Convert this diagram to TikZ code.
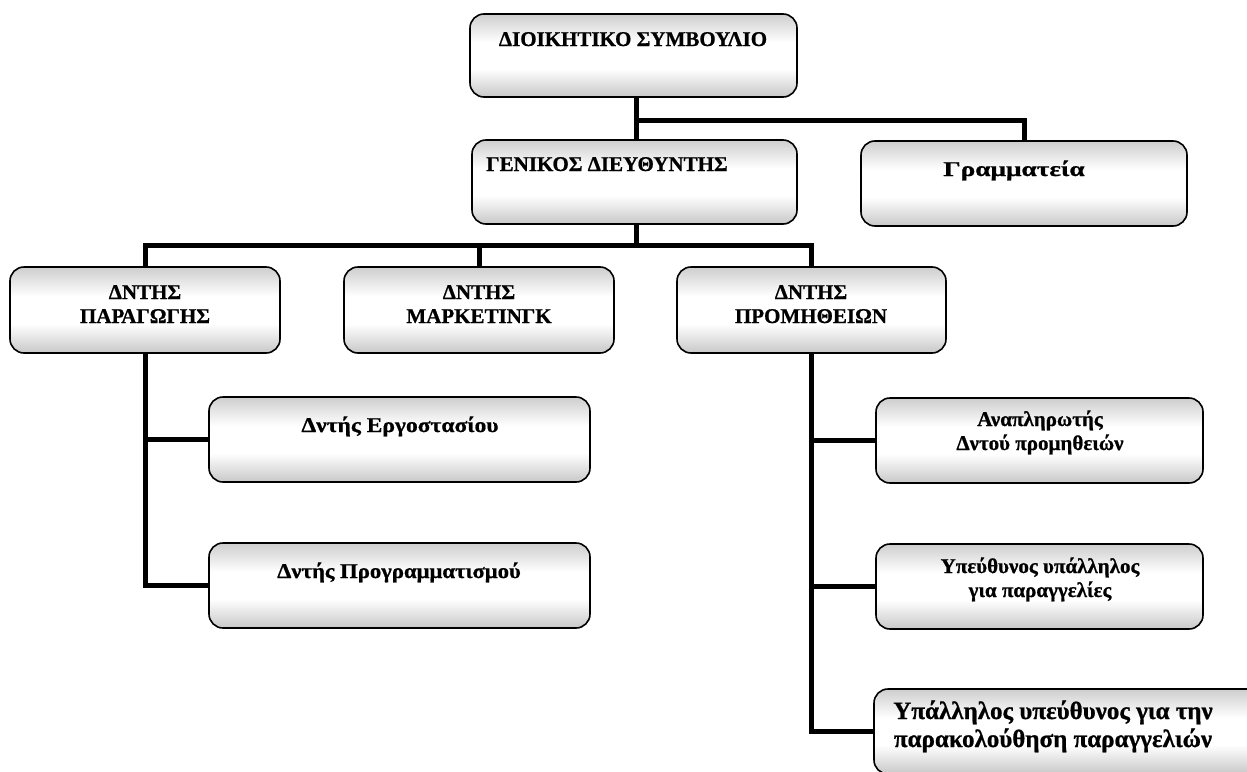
\documentclass[tikz,border=0pt]{standalone}
\usepackage{fontspec}
\setmainfont{Liberation Serif}[BoldFeatures={FakeBold=0.8}]
\usetikzlibrary{calc,backgrounds}

% grey-white-grey fill of the boxes (0bp = bottom edge)
\pgfdeclareverticalshading{boxshade}{100bp}{%
  color(0bp)=(black!58); color(20bp)=(black!28); color(42bp)=(white);
  color(58bp)=(white); color(80bp)=(black!25); color(100bp)=(black!50)}

\begin{document}
\begin{tikzpicture}[x=1pt,y=-1pt,
  box/.style={draw=black,line width=1.6pt,rounded corners=14pt,
    shading=boxshade,rectangle,inner sep=0pt,outer sep=0pt},
  lbl/.style={font=\fontsize{21}{24}\selectfont\bfseries,
    align=center,inner sep=0pt,anchor=base},
  biglbl/.style={lbl,font=\fontsize{25}{28}\selectfont\bfseries},
  wire/.style={line width=5pt}]

\useasboundingbox (0,0) rectangle (1247,771);
\clip (0,0) rectangle (1247,771);

% ---- boxes -------------------------------------------------------
\path
 node[box,minimum width=327pt,minimum height=83pt] (b1) at (633.5,55.5) {}
 node[box,minimum width=325pt,minimum height=84pt] (b2) at (634.5,182) {}
 node[box,minimum width=326pt,minimum height=85pt] (b3) at (1024,183.5) {}
 node[box,minimum width=270pt,minimum height=86pt] (b4) at (145,310) {}
 node[box,minimum width=270pt,minimum height=86pt] (b5) at (479,310) {}
 node[box,minimum width=269pt,minimum height=86pt] (b6) at (811.5,310) {}
 node[box,minimum width=381pt,minimum height=85pt] (b7) at (399.5,439.5) {}
 node[box,minimum width=381pt,minimum height=85pt] (b8) at (399.5,585.5) {}
 node[box,minimum width=327pt,minimum height=85pt] (b9) at (1039.5,440.5) {}
 node[box,minimum width=327pt,minimum height=85pt] (b10) at (1039.5,586.5) {}
 node[box,minimum width=400pt,minimum height=85pt] (b11) at (1074,731.5) {};

% ---- connectors (drawn behind the boxes) -------------------------
\coordinate (j1) at ($(b1.south)+(3,23)$);
\coordinate (j2) at ($(b2.south)+(2,21)$);
\begin{scope}[on background layer]
  \fill[white] (0,0) rectangle (1247,771);
  \draw[wire] (j1 |- b1.south) -- (j1 |- b2.north);
  \draw[wire] (j1) -| (b3.north);
  \draw[wire] (j2 |- b2.south) -- (j2);
  \draw[wire] (b4.north) |- (j2) -| (b6.north);
  \draw[wire] (b5.north) -- (b5.north |- j2);
  % production branch
  \draw[wire] (b4.south) |- (b8.west);
  \draw[wire] (b4.south |- b7.west) -- (b7.west);
  % purchasing branch
  \draw[wire] (b6.south) |- (b11.west);
  \draw[wire] (b6.south |- b9.west) -- (b9.west);
  \draw[wire] (b6.south |- b10.west) -- (b10.west);
\end{scope}

% ---- labels (base = baseline of the last line) --------------------
\node[lbl] (t1) at (633,46) {ΔΙΟΙΚΗΤΙΚΟ ΣΥΜΒΟΥΛΙΟ};
\node[lbl] (t2) at (607,171) {ΓΕΝΙΚΟΣ ΔΙΕΥΘΥΝΤΗΣ};
\node[lbl] (t3) at (1014,176) {\scalebox{1.3}[1]{Γραμματεία}};
\node[lbl] (t4) at (145,323) {ΔΝΤΗΣ\\ΠΑΡΑΓΩΓΗΣ};
\node[lbl] (t5) at (479,323) {ΔΝΤΗΣ\\ΜΑΡΚΕΤΙΝΓΚ};
\node[lbl] (t6) at (811,323) {ΔΝΤΗΣ\\ΠΡΟΜΗΘΕΙΩΝ};
\node[lbl] (t7) at (400,432) {\scalebox{1.12}[1]{Δντής Εργοστασίου}};
\node[lbl] (t8) at (399,578) {\scalebox{1.08}[1]{Δντής Προγραμματισμού}};
\node[lbl] (t9) at (1040,450) {Αναπληρωτής\\Δντού προμηθειών};
\node[lbl] (t10) at (1040,597) {Υπεύθυνος υπάλληλος\\για παραγγελίες};
\node[biglbl] (t11) at (1053,747)
  {Υπάλληλος υπεύθυνος για την\\παρακολούθηση παραγγελιών};

\end{tikzpicture}
\end{document}
